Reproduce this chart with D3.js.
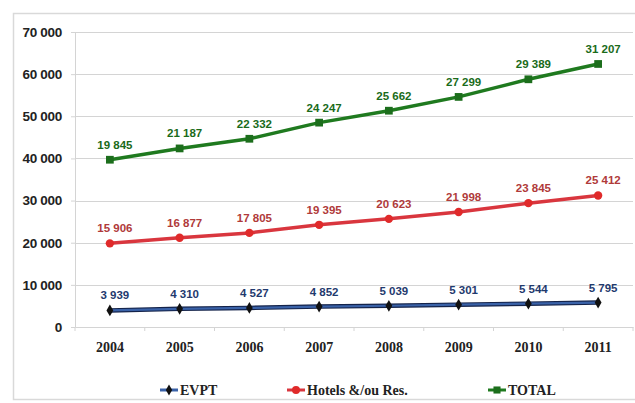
<!DOCTYPE html>
<html><head><meta charset="utf-8">
<script src="https://cdn.jsdelivr.net/npm/d3@7"></script>
<style>body{margin:0;background:#fff}svg{display:block}</style>
</head><body>
<svg id="c" width="635" height="403"></svg>
<script>
const years = ["2004","2005","2006","2007","2008","2009","2010","2011"];
const evpt = [3939,4310,4527,4852,5039,5301,5544,5795];
const hotels = [15906,16877,17805,19395,20623,21998,23845,25412];
const total = [19845,21187,22332,24247,25662,27299,29389,31207];
const yTicks = [0,10000,20000,30000,40000,50000,60000,70000];
const seriesNames = ["EVPT","Hotels &/ou Res.","TOTAL"];

const svg = d3.select("#c");
const pLeft = 75, pRight = 633, pTop = 32, pBottom = 327;
const x = d3.scaleBand().domain(years).range([pLeft, pRight]);
const y = d3.scaleLinear().domain([0,70000]).range([pBottom, pTop]);

// frame
svg.append("rect").attr("x",13.5).attr("y",13.5).attr("width",640).attr("height",386)
  .attr("fill","none").attr("stroke","#d9d9d9").attr("stroke-width",1.5);

// gridlines
svg.append("g").selectAll("line").data(yTicks.filter(d=>d>0)).join("line")
  .attr("x1",pLeft).attr("x2",pRight).attr("y1",d=>Math.round(y(d))+0.5).attr("y2",d=>Math.round(y(d))+0.5)
  .attr("stroke","#d4d4d4").attr("stroke-width",1.2);

// y axis
const ya = svg.append("g").attr("transform",`translate(${pLeft},0)`)
  .call(d3.axisLeft(y).tickValues(yTicks).tickSize(4).tickFormat(d=>d3.format(",")(d).replace(/,/g," ")));
ya.select(".domain").attr("stroke","#d4d4d4");
ya.selectAll(".tick line").attr("stroke","#d4d4d4");
ya.selectAll("text").attr("font-family","Arial, 'Liberation Sans', sans-serif").attr("font-size",13.5)
  .attr("font-weight","bold").attr("fill","#222").attr("x",-13).attr("letter-spacing","-0.3");

// x axis
const xa = svg.append("g").attr("transform",`translate(0,${pBottom})`)
  .call(d3.axisBottom(x).tickSize(0));
xa.select(".domain").attr("stroke","#d4d4d4");
xa.selectAll(".tick line").remove();
xa.selectAll(".tick text").attr("font-family","'Liberation Serif', 'Times New Roman', serif")
  .attr("font-size",14).attr("font-weight","bold").attr("fill","#222").attr("dy","1.6em");
svg.append("g").selectAll("line").data(years.concat(["end"])).join("line")
  .attr("x1",(d,i)=>pLeft+i*x.bandwidth()).attr("x2",(d,i)=>pLeft+i*x.bandwidth())
  .attr("y1",pBottom).attr("y2",pBottom+4).attr("stroke","#d4d4d4");

// stacked values
const s1 = evpt;
const s2 = hotels.map((v,i)=>v+evpt[i]);
const s3 = total.map((v,i)=>v+s2[i]);
const cx = d => x(d)+x.bandwidth()/2;

const series = [
  {vals:s1, labels:evpt, line:"#3a62a8", stroke:"#14234a", marker:"diamond", mcol:"#111", lcol:"#1f3a6e"},
  {vals:s2, labels:hotels, line:"#d9363e", stroke:"#b02020", marker:"circle", mcol:"#e02a2a", lcol:"#b03a3a"},
  {vals:s3, labels:total, line:"#1f7a1f", stroke:"#1f7a1f", marker:"square", mcol:"#1c6e1c", lcol:"#1a6b1a"}
];
const line = d3.line().x((d,i)=>cx(years[i])).y(d=>y(d));
series.forEach((s,k)=>{
  if(k===0){
    svg.append("path").datum(s.vals).attr("d",line).attr("fill","none").attr("stroke",s.stroke).attr("stroke-width",4.5);
    svg.append("path").datum(s.vals).attr("d",line).attr("fill","none").attr("stroke",s.line).attr("stroke-width",2.2);
  } else {
    svg.append("path").datum(s.vals).attr("d",line).attr("fill","none").attr("stroke",s.line).attr("stroke-width",3.5);
  }
  const sym = s.marker==="diamond"? d3.symbolDiamond : s.marker==="circle"? d3.symbolCircle : d3.symbolSquare;
  const size = s.marker==="diamond"? 40 : s.marker==="circle"? 55 : 60;
  svg.append("g").selectAll("path").data(s.vals).join("path")
    .attr("d",d3.symbol().type(sym).size(size))
    .attr("transform",(d,i)=>`translate(${cx(years[i])},${y(d)})`)
    .attr("fill",s.mcol);
  svg.append("g").selectAll("text").data(s.labels).join("text")
    .attr("x",(d,i)=>cx(years[i])+5)
    .attr("y",(d,i)=>y(s.vals[i])-11)
    .attr("text-anchor","middle")
    .attr("font-family","Arial, 'Liberation Sans', sans-serif")
    .attr("font-size",11.5).attr("font-weight","bold").attr("fill",s.lcol)
    .text(d=>d3.format(",")(d).replace(/,/g," "));
});

// legend
const leg = [{x:160,name:seriesNames[0],s:series[0]},{x:287,name:seriesNames[1],s:series[1]},{x:488,name:seriesNames[2],s:series[2]}];
const lg = svg.append("g").selectAll("g").data(leg).join("g").attr("transform",d=>`translate(${d.x},390)`);
lg.append("line").attr("x1",0).attr("x2",18).attr("stroke",d=>d.s.line).attr("stroke-width",3);
lg.append("path").attr("transform","translate(9,0)")
  .attr("d",d=>d3.symbol().type(d.s.marker==="diamond"?d3.symbolDiamond:d.s.marker==="circle"?d3.symbolCircle:d3.symbolSquare).size(d.s.marker==="diamond"?35:50)())
  .attr("fill",d=>d.s.mcol);
lg.append("text").attr("x",20).attr("y",5).attr("font-family","'Liberation Serif', 'Times New Roman', serif")
  .attr("font-size",14).attr("font-weight","bold").attr("fill","#222").text(d=>d.name);
</script>
</body></html>
